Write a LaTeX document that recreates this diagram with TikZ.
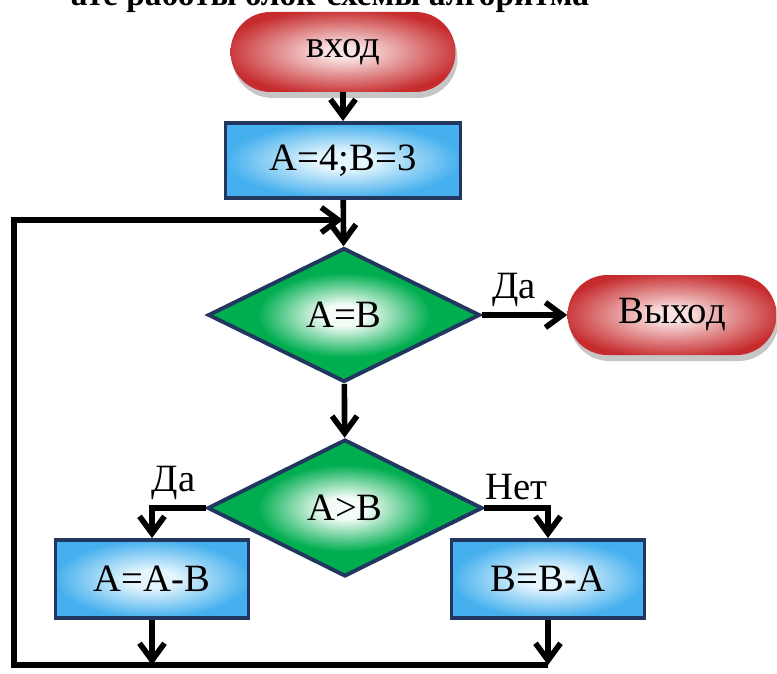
\documentclass[tikz,border=0pt]{standalone}
\usepackage{fontspec}
\setmainfont{Liberation Serif}
\usetikzlibrary{arrows.meta,positioning,shapes.geometric,shadows}

\definecolor{redIn}{RGB}{250,226,226}
\definecolor{redOut}{RGB}{198,44,46}
\definecolor{blueIn}{RGB}{228,245,253}
\definecolor{blueOut}{RGB}{70,176,238}
\definecolor{greenIn}{RGB}{244,252,247}
\definecolor{greenOut}{RGB}{0,174,80}
\definecolor{navyEdge}{RGB}{33,55,96}

\pgfdeclareradialshading{redShade}{\pgfpoint{0bp}{0bp}}{color(0bp)=(redIn); color(4bp)=(redIn); color(27bp)=(redOut); color(50bp)=(redOut)}
\pgfdeclareradialshading{blueShade}{\pgfpoint{0bp}{0bp}}{color(0bp)=(blueIn); color(6bp)=(blueIn); color(25bp)=(blueOut); color(50bp)=(blueOut)}
\pgfdeclareradialshading{greenShade}{\pgfpoint{0bp}{0bp}}{color(0bp)=(greenIn); color(4bp)=(greenIn); color(16bp)=(greenOut); color(50bp)=(greenOut)}

\begin{document}
\begin{tikzpicture}[
      >={Straight Barb[length=3.4mm,width=5mm]},
      termOval/.style={
        rectangle, rounded corners=0.8cm, shading=redShade,
        minimum height=1.6cm, inner sep=2pt,
        font=\fontsize{22}{26}\selectfont,
        drop shadow={shadow xshift=0.4mm, shadow yshift=-1.2mm, opacity=0.45}
      },
      procBox/.style={
        rectangle, draw=navyEdge, line width=2.2pt, shading=blueShade,
        minimum height=1.5cm, inner sep=2pt,
        font=\fontsize{22}{26}\selectfont
      },
      decDiamond/.style={
        diamond, draw=navyEdge, line width=2.2pt, shading=greenShade,
        inner sep=0pt, font=\fontsize{22}{26}\selectfont
      },
      branchLabel/.style={font=\fontsize{22}{26}\selectfont, inner sep=3pt},
      titleText/.style={font=\fontsize{19}{23}\selectfont\bfseries},
      flowArrow/.style={->, line width=3.2pt}
    ]

      \useasboundingbox (0,0) rectangle (15.54,-13.46);

      % ---------- Title (cut off at the top) ----------
      \node[titleText, anchor=base] (title) at (6.6,-0.12) {ате работы блок-схемы алгоритма};

      % ---------- Blocks ----------
      \node[termOval, minimum width=4.5cm] (start) at (6.86,-1.04) {вход};
      \node[procBox, minimum width=4.7cm] (init) at (6.86,-3.21) {A=4;B=3};

      \node[decDiamond, minimum width=5.44cm, minimum height=2.68cm] (eq) at (6.88,-6.3) {A=B};
      \node[termOval, minimum width=4.18cm] (stop) at (13.44,-6.3) {Выход};

      \node[decDiamond, minimum width=5.5cm, minimum height=2.74cm] (gt) at (6.9,-10.16) {A>B};

      \node[procBox, minimum width=3.86cm, minimum height=1.56cm] (subA) at (3.04,-11.58) {A=A-B};
      \node[procBox, minimum width=3.86cm, minimum height=1.56cm] (subB) at (10.96,-11.58) {B=B-A};

      % ---------- Loop corners ----------
      \coordinate (loopBL) at (0.28,-13.3);
      \coordinate (loopTL) at (0.28,-4.4);

      % ---------- Connectors ----------
      \draw[flowArrow] (start) -- (init);
      \draw[flowArrow] (init) -- (eq);
      \draw[flowArrow] (eq) -- node[branchLabel, above, pos=0.38] {Да} (stop);
      \draw[flowArrow] (eq) -- (gt);

      \draw[flowArrow] (gt.west) -| node[branchLabel, above, pos=0.3] {Да} (subA.north);
      \draw[flowArrow] (gt.east) -| node[branchLabel, above, pos=0.25] {Нет} (subB.north);

      \draw[flowArrow] (subA.south) -- (subA.south |- loopBL);
      \draw[flowArrow] (subB.south) -- (subB.south |- loopBL);

      % back to the top
      \draw[flowArrow] (subB.south |- loopBL) -- (loopBL) |- (init.south |- loopTL);

    \end{tikzpicture}
\end{document}
